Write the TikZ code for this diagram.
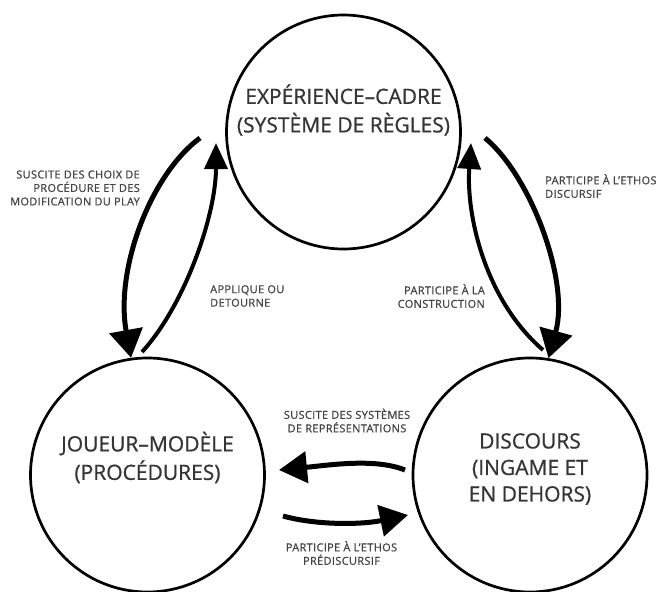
\documentclass[tikz,border=0pt]{standalone}
\usepackage{fontspec}
\setmainfont{Open Sans}
\newfontfamily\bigfont[FakeBold=0.8]{Open Sans}
\newfontfamily\smallfont[FakeBold=0.8,LetterSpace=3]{Open Sans}
\usetikzlibrary{arrows.meta}
\definecolor{bigtext}{HTML}{353535}
\definecolor{smalltext}{HTML}{444444}
\begin{document}
\begin{tikzpicture}[x=1pt,y=-1pt,
  circ/.style={circle,draw=black,line width=2.7pt,minimum size=234pt,inner sep=0pt},
  bigtxt/.style={font=\bigfont\fontsize{21}{28.5}\selectfont,text=bigtext,align=center,inner sep=0pt},
  smalltxt/.style={font=\smallfont\fontsize{11}{13.5}\selectfont,text=smalltext,inner sep=0pt},
  outerarrow/.style={line width=5pt,-{Triangle[length=28pt,width=33pt]}},
  innerarrow/.style={line width=4pt,-{Triangle[length=26pt,width=23pt]}},
  sidearrow/.style={line width=5pt,-{Triangle[length=28pt,width=31pt]}}
]
\useasboundingbox[fill=white] (0,0) rectangle (657,592);

% circles
\node[circ] (T) at (343.5,132) {};
\node[circ] (L) at (147.5,475) {};
\node[circ] (R) at (530,475) {};

% circle texts
\node[bigtxt] (Ttxt) at (343.5,110) {EXPÉRIENCE–CADRE\\(SYSTÈME DE RÈGLES)};
\node[bigtxt] (Ltxt) at (147.5,457.5) {JOUEUR–MODÈLE\\(PROCÉDURES)};
\node[bigtxt,font=\bigfont\fontsize{21}{26.5}\selectfont] (Rtxt) at (530,469) {DISCOURS\\(INGAME ET\\EN DEHORS)};

% arrow end points
\coordinate (a1) at (200,138);
\coordinate (b1) at (142,352);
\coordinate (b2) at (216,143);
\coordinate (c1) at (543,350);
\coordinate (c2) at (471,143);
\coordinate (d1) at (485,138);
\coordinate (e1) at (405,470);
\coordinate (e2) at (279,470);
\coordinate (f1) at (283,516);
\coordinate (f2) at (408,515);

% arrows
\draw[outerarrow] (a1) .. controls (150,175) and (115,270) .. (L.98);
\draw[innerarrow] (b1) .. controls (185,305) and (216,215) .. (b2);
\draw[innerarrow] (c1) .. controls (485,300) and (466,215) .. (c2);
\draw[outerarrow] (d1) .. controls (530,175) and (570,280) .. (R.81);
\draw[sidearrow] (e1) .. controls (375,458) and (330,465) .. (e2);
\draw[sidearrow] (f1) .. controls (315,525) and (360,525) .. (f2);

% labels
\node[smalltxt,align=right,anchor=east] (l1) at (140,188) {SUSCITE DES CHOIX DE\\PROCÉDURE ET DES\\MODIFICATION DU PLAY};
\node[smalltxt,align=left,anchor=west] (l2) at (545,186) {PARTICIPE À L’ETHOS\\DISCURSIF};
\node[smalltxt,align=left,anchor=west] (l3) at (210,296) {APPLIQUE OU\\DETOURNE};
\node[smalltxt,align=right,anchor=east] (l4) at (485,296) {PARTICIPE À LA\\CONSTRUCTION};
\node[smalltxt,align=center] (l5) at (347,420.5) {SUSCITE DES SYSTÈMES\\DE REPRÉSENTATIONS};
\node[smalltxt,align=center] (l6) at (341.5,553) {PARTICIPE À L’ETHOS\\PRÉDISCURSIF};
\end{tikzpicture}
\end{document}
